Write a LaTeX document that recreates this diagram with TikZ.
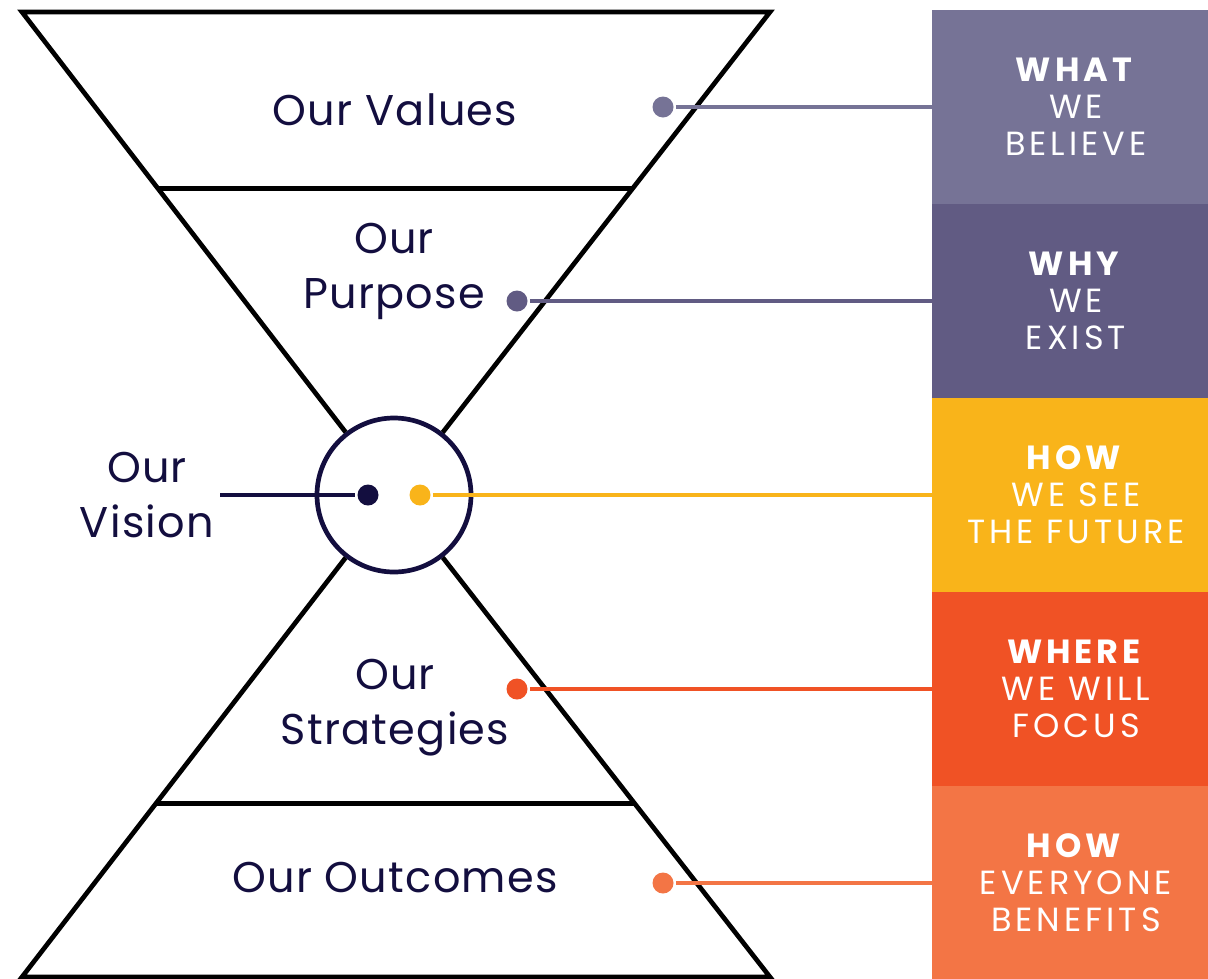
\documentclass[tikz,border=0pt]{standalone}
\usepackage{fontspec}
\setmainfont{Poppins}
\newfontfamily\partfont{Poppins}[LetterSpace=3]
\newfontfamily\tagfont{Poppins}[LetterSpace=12]
\usepackage{tikz}
\usetikzlibrary{calc, positioning}
\definecolor{colorInk}{HTML}{130E3F}
\definecolor{colorBelieve}{HTML}{767396}
\definecolor{colorExist}{HTML}{615B83}
\definecolor{colorFuture}{HTML}{F9B41A}
\definecolor{colorFocus}{HTML}{F05225}
\definecolor{colorBenefit}{HTML}{F37545}
\tikzset{
  part/.style={text=colorInk, align=center, font=\partfont\fontsize{43}{55}\selectfont, text depth=0pt, inner sep=0pt},
  tag/.style={fill=#1, text=white, minimum width=288pt, minimum height=194pt, inner sep=0pt, outer sep=0pt, align=center, font=\tagfont\fontsize{33.5}{37}\selectfont},
  dot/.style={circle, fill=#1, minimum size=21pt, inner sep=0pt},
  wire/.style={line width=3.5pt, draw=#1}
}

\begin{document}
\begin{tikzpicture}[x=1pt, y=-1pt, line width=4.7pt, line join=miter]
\useasboundingbox (0,0) rectangle (1208,978);
\node[circle, draw=colorInk, minimum size=154pt, inner sep=0pt] (vision) at (394,495) {};
\coordinate (tl) at (22,12);
\coordinate (tr) at (770,12);
\coordinate (bl) at (22,977);
\coordinate (br) at (770,977);
\draw (vision) -- (tl) -- (tr) -- (vision);
\draw (vision) -- (bl) -- (br) -- (vision);
\draw ($(tl)!0.365!(vision.center)$) -- ($(tr)!0.365!(vision.center)$);
\draw ($(bl)!0.36!(vision.center)$) -- ($(br)!0.36!(vision.center)$);

\node[tag=colorBelieve] (believe) at (1076,107) {\textbf{WHAT}\\WE\\BELIEVE};
\node[tag=colorExist] (exist) at (1076,301) {\textbf{WHY}\\WE\\EXIST};
\node[tag=colorFuture] (future) at (1076,495) {\textbf{HOW}\\WE SEE\\THE FUTURE};
\node[tag=colorFocus] (focus) at (1076,689) {\textbf{WHERE}\\WE WILL\\FOCUS};
\node[tag=colorBenefit] (benefits) at (1076,883) {\textbf{HOW}\\EVERYONE\\BENEFITS};

\node[dot=colorBelieve] (d1) at (663,107) {};
\node[dot=colorExist] (d2) at (517,301) {};
\node[dot=colorFuture] (d3) at (420,495) {};
\node[dot=colorFocus] (d4) at (517,689) {};
\node[dot=colorBenefit] (d5) at (663,883) {};
\node[dot=colorInk] (d0) at (368,495) {};
\coordinate (v0) at (220,495);
\draw[wire=colorBelieve] (d1) -- (believe);
\draw[wire=colorExist] (d2) -- (exist);
\draw[wire=colorFuture] (d3) -- (future);
\draw[wire=colorFocus] (d4) -- (focus);
\draw[wire=colorBenefit] (d5) -- (benefits);
\draw[wire=colorInk] (v0) -- (d0);

\node[part] (values) at (395,110) {Our Values};
\node[part] (purpose) at (394,266) {Our\\Purpose};
\node[part] (visiontext) at (147,495) {Our\\Vision};
\node[part] (strategies) at (395,702) {Our\\Strategies};
\node[part] (outcomes) at (395,877) {Our Outcomes};
\end{tikzpicture}
\end{document}
